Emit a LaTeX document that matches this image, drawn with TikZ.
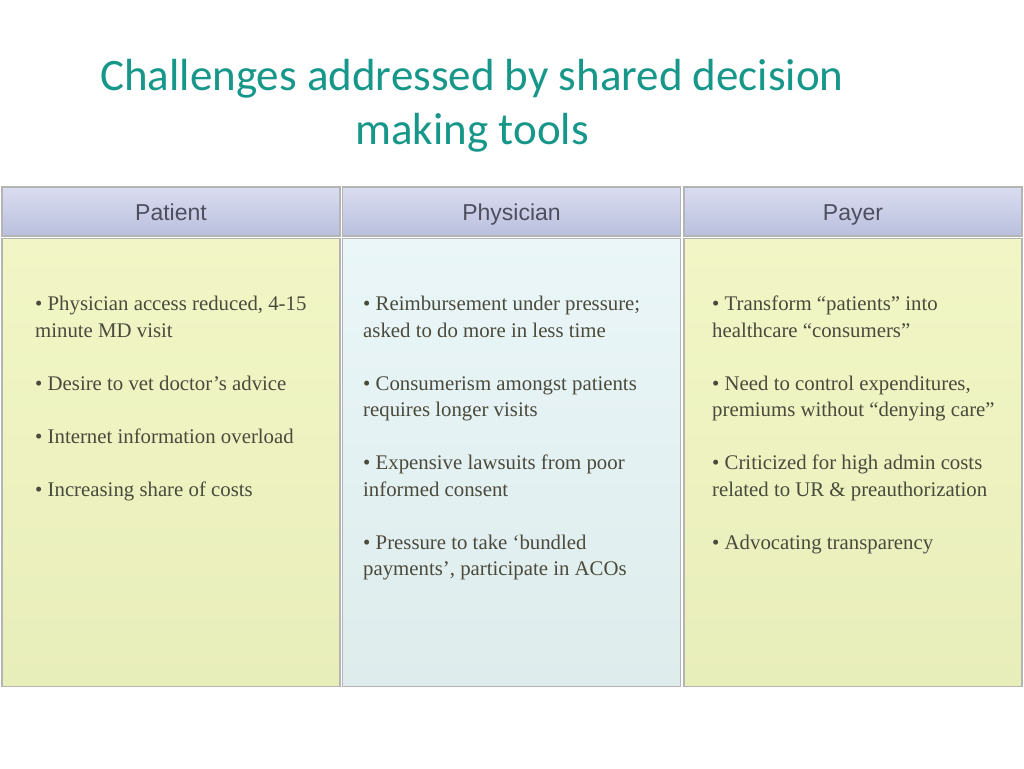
\documentclass[tikz,border=0pt]{standalone}
\usepackage{fontspec}
\usepackage{tikz}
\usepackage{xcolor}
\usetikzlibrary{positioning}
\setmainfont{Liberation Serif}
\newfontfamily\headfont{Liberation Sans}
\newfontfamily\titlefont{Carlito}
\definecolor{titleteal}{HTML}{17978A}
\definecolor{headtop}{HTML}{DADDF0}
\definecolor{headbottom}{HTML}{BABFDD}
\definecolor{headtext}{HTML}{4E4E60}
\definecolor{yellowtop}{HTML}{F2F6C6}
\definecolor{yellowbottom}{HTML}{E8EEBA}
\definecolor{bluetop}{HTML}{EAF6F8}
\definecolor{bluebottom}{HTML}{DEECEC}
\definecolor{cellline}{HTML}{B4B4B4}
\definecolor{bodytext}{HTML}{4A4A3C}
\tikzset{
    title-text/.style = {text=titleteal, font=\titlefont\fontsize{45}{54}\selectfont, align=center},
    head-box/.style = {draw=cellline, top color=headtop, bottom color=headbottom, line width=1.2pt, rectangle, minimum width=338pt, minimum height=49pt, inner sep=0pt, text height=18pt, text depth=1pt, text=headtext, font=\headfont\fontsize{23}{26}\selectfont},
    body-box/.style = {draw=cellline, line width=1.2pt, rectangle, minimum width=338pt, minimum height=448pt, inner sep=0pt},
    yellow-box/.style = {body-box, top color=yellowtop, bottom color=yellowbottom},
    blue-box/.style = {body-box, top color=bluetop, bottom color=bluebottom},
    body-text/.style = {anchor=north west, inner sep=0pt, align=left, text=bodytext, font=\fontsize{20.8}{26.5}\selectfont},
}
\begin{document}
\begin{tikzpicture}[x=1pt, y=-1pt]
\path[use as bounding box, fill=white] (0,0) rectangle (1024,768);

\node [title-text] (title) at (472,106) {Challenges addressed by shared decision\\making tools};

\node [head-box] (patient) at (171,211.5) {Patient};
\node [head-box] (physician) at (511.5,211.5) {Physician};
\node [head-box] (payer) at (853,211.5) {Payer};

\node [yellow-box, below=1pt of patient] (patient-body) {};
\node [blue-box, below=1pt of physician] (physician-body) {};
\node [yellow-box, below=1pt of payer] (payer-body) {};

\node [body-text] (patient-list) at (35,296) {%
    \textbullet\ Physician access reduced, 4-15\\
    minute MD visit\\[26.5pt]
    \textbullet\ Desire to vet doctor’s advice\\[26.5pt]
    \textbullet\ Internet information overload\\[26.5pt]
    \textbullet\ Increasing share of costs};
\node [body-text] (physician-list) at (363,296) {%
    \textbullet\ Reimbursement under pressure;\\
    asked to do more in less time\\[26.5pt]
    \textbullet\ Consumerism amongst patients\\
    requires longer visits\\[26.5pt]
    \textbullet\ Expensive lawsuits from poor\\
    informed consent\\[26.5pt]
    \textbullet\ Pressure to take ‘bundled\\
    payments’, participate in ACOs};
\node [body-text] (payer-list) at (712,296) {%
    \textbullet\ Transform “patients” into\\
    healthcare “consumers”\\[26.5pt]
    \textbullet\ Need to control expenditures,\\
    premiums without “denying care”\\[26.5pt]
    \textbullet\ Criticized for high admin costs\\
    related to UR \& preauthorization\\[26.5pt]
    \textbullet\ Advocating transparency};
\end{tikzpicture}
\end{document}
